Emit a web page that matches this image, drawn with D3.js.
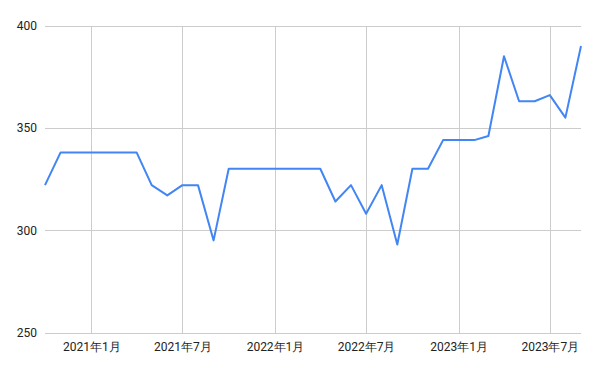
<!DOCTYPE html>
<html><head><meta charset="utf-8">
<script src="https://cdn.jsdelivr.net/npm/d3@7"></script>
<style>body{margin:0;background:#fff}svg{display:block}</style>
</head><body>
<svg id="c" width="600" height="371"></svg>
<script>
const months = ["2020-10","2020-11","2020-12","2021-01","2021-02","2021-03","2021-04","2021-05","2021-06","2021-07","2021-08","2021-09","2021-10","2021-11","2021-12","2022-01","2022-02","2022-03","2022-04","2022-05","2022-06","2022-07","2022-08","2022-09","2022-10","2022-11","2022-12","2023-01","2023-02","2023-03","2023-04","2023-05","2023-06","2023-07","2023-08","2023-09"];
const values = [322,338,338,338,338,338,338,322,317,322,322,295,330,330,330,330,330,330,330,314,322,308,322,293,330,330,344,344,344,346,385,363,363,366,355,390];
const yTicks = [250,300,350,400];
const xTickMonths = ["2021-01","2021-07","2022-01","2022-07","2023-01","2023-07"];
const xTickLabels = ["2021年1月","2021年7月","2022年1月","2022年7月","2023年1月","2023年7月"];

const parse = d3.timeParse("%Y-%m");
const data = months.map((m,i)=>({date:parse(m), v:values[i]}));
const svg = d3.select("#c");
const L=45, R=581, T=25.5, B=332.5;
const x = d3.scaleTime().domain([data[0].date, data[data.length-1].date]).range([L,R]);
const y = d3.scaleLinear().domain([250,400]).range([B,T]);
const font = "Roboto, Arial, sans-serif";

const gy = svg.append("g").attr("transform",`translate(${L},0)`)
  .call(d3.axisLeft(y).tickValues(yTicks).tickSize(-(R-L)).tickPadding(8));
gy.select(".domain").remove();
gy.selectAll("line").attr("stroke","#cccccc").attr("shape-rendering","crispEdges");
gy.selectAll("text").attr("font-family",font).attr("font-size",12).attr("fill","#222");

const gx = svg.append("g").attr("transform",`translate(0,${B})`)
  .call(d3.axisBottom(x).tickValues(xTickMonths.map(parse)).tickFormat((d,i)=>xTickLabels[i]).tickSize(-(B-T)).tickPadding(10));
gx.select(".domain").remove();
gx.selectAll("line").attr("stroke","#cccccc").attr("shape-rendering","crispEdges");
gx.selectAll("text").attr("font-family",font).attr("font-size",12).attr("fill","#222");

svg.append("path").datum(data)
  .attr("fill","none").attr("stroke","#4285f4").attr("stroke-width",2).attr("stroke-linejoin","round")
  .attr("d", d3.line().x(d=>x(d.date)).y(d=>y(d.v)));
</script>
</body></html>
